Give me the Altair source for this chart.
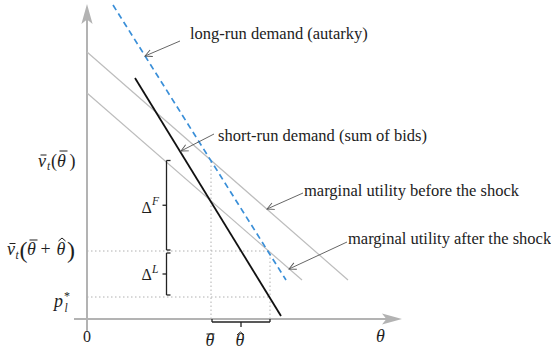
import math
import altair as alt
import pandas as pd

# ---- diagram values (theta on the horizontal axis, price on the vertical) ----
theta_bar = 124          # first-period quantity
theta_bar_hat = 183      # theta_bar + theta_hat
v_bar = 159              # v_t(theta_bar)
v_bar_hat = 68           # v_t(theta_bar + theta_hat)
p_low = 22               # p_l^*

# straight-line schedules: endpoints (theta0, price0) -> (theta1, price1)
mu_before = [(0, 267), (261, 39)]
mu_after = [(0, 226), (215, 39)]
long_run = [(26, 314), (199, 39)]
short_run = [(48, 241), (194, 3)]

# annotation arrows: label, tail, head
notes = [
    ("long-run demand (autarky)", (93, 278), (58, 263)),
    ("short-run demand (sum of bids)", (127, 185), (94, 168)),
    ("marginal utility before the shock", (216, 126), (180, 110)),
    ("marginal utility after the shock", (260, 77), (202, 50)),
]

# origin of the axes inside the 551 x 349 canvas
OX, OY = 87, 319
XS = alt.Scale(domain=[-OX, 551 - OX], nice=False, zero=False)
YS = alt.Scale(domain=[OY - 349, OY], nice=False, zero=False)
SERIF = "Liberation Serif"
INK = "#1e1e1e"


def cx(px):
    return px - OX


def cy(py):
    return OY - py


def seg_layer(rows, **mark):
    df = pd.DataFrame(rows, columns=["x", "y", "x2", "y2"])
    return alt.Chart(df).mark_rule(**mark).encode(
        x=alt.X("x:Q", scale=XS, axis=None),
        y=alt.Y("y:Q", scale=YS, axis=None),
        x2="x2:Q",
        y2="y2:Q",
    )


def line_rows(pts):
    (a, b), (c, d) = pts
    return [(a, b, c, d)]


def text_layer(rows, size, style="normal", align="left", baseline="alphabetic", color=INK):
    df = pd.DataFrame(rows, columns=["x", "y", "t"])
    return alt.Chart(df).mark_text(
        font=SERIF, fontSize=size, fontStyle=style, align=align,
        baseline=baseline, color=color,
    ).encode(
        x=alt.X("x:Q", scale=XS, axis=None),
        y=alt.Y("y:Q", scale=YS, axis=None),
        text="t:N",
    )


layers = []

# axes with arrow heads
layers.append(seg_layer([(cx(74), 0, 300, 0), (0, cy(332), 0, 300)], color="#b3b3b3", strokeWidth=2))
axis_heads = pd.DataFrame({"x": [cx(402), 0], "y": [0, cy(4)], "a": [0, 270]})
layers.append(
    alt.Chart(axis_heads).mark_point(
        shape="M0,0L-1,-0.28L-0.78,0L-1,0.28Z", size=1600, filled=True,
        color="#b3b3b3", opacity=1, strokeWidth=0,
    ).encode(
        x=alt.X("x:Q", scale=XS, axis=None),
        y=alt.Y("y:Q", scale=YS, axis=None),
        angle=alt.Angle("a:Q", scale=None),
    )
)

# dotted guides
guides = [
    (0, v_bar_hat, theta_bar_hat, v_bar_hat),
    (0, p_low, theta_bar_hat, p_low),
    (theta_bar, 0, theta_bar, v_bar),
    (theta_bar_hat, 0, theta_bar_hat, v_bar_hat),
]
layers.append(seg_layer(guides, color="#b0b0b0", strokeWidth=1, strokeDash=[1.5, 2.5]))

# marginal utility schedules
layers.append(seg_layer(line_rows(mu_before) + line_rows(mu_after), color="#bdbdbd", strokeWidth=1.2))
# long-run demand
layers.append(seg_layer(line_rows(long_run), color="#3a8fd8", strokeWidth=1.7, strokeDash=[6, 4]))
# short-run demand
layers.append(seg_layer(line_rows(short_run), color="#111111", strokeWidth=1.8))

# braces for Delta^F, Delta^L and theta_hat
bx = cx(166.5)
top_f, bot_f = v_bar - 0.5, v_bar_hat + 1
top_l, bot_l = v_bar_hat - 2, p_low + 2
braces = []
for top, bot in [(top_f, bot_f), (top_l, bot_l)]:
    mid = (top + bot) / 2
    braces += [(bx, top, bx, bot), (bx, top, bx + 4, top), (bx, bot, bx + 4, bot), (bx, mid, bx - 4, mid)]
l, r = theta_bar + 1, theta_bar_hat
yb = cy(322)
braces += [(l, yb, r, yb), (l, yb, l, 0), (r, yb, r, 0), ((l + r) / 2, yb, (l + r) / 2, yb - 5)]
layers.append(seg_layer(braces, color="#222222", strokeWidth=1.3))

# annotation arrows and their labels
arrow_rows = [(t[0], t[1], h[0], h[1]) for _, t, h in notes]
layers.append(seg_layer(arrow_rows, color="#555555", strokeWidth=0.9))
heads = pd.DataFrame({
    "x": [h[0] for _, _, h in notes],
    "y": [h[1] for _, _, h in notes],
    "a": [math.degrees(math.atan2(-(h[1] - t[1]), h[0] - t[0])) % 360 for _, t, h in notes],
})
layers.append(
    alt.Chart(heads).mark_point(
        shape="M-1,-0.5L0,0L-1,0.5", size=196, filled=False,
        color="#555555", opacity=1, strokeWidth=0.9,
    ).encode(
        x=alt.X("x:Q", scale=XS, axis=None),
        y=alt.Y("y:Q", scale=YS, axis=None),
        angle=alt.Angle("a:Q", scale=None),
    )
)
note_pos = [(190, 38.5), (218, 140.5), (304, 195.5), (348, 243.5)]
layers.append(text_layer([(cx(px), cy(py), txt) for (txt, _, _), (px, py) in zip(notes, note_pos)],
                         16.5, color="#222"))

# ---- math labels built from glyph pieces ----
italic_big = [  # v, theta, p at 18px italic
    (38, 167, "v"), (57, 167, "θ"),
    (7, 255, "v"), (27, 255, "θ"), (56.5, 255, "θ"),
    (54, 307, "p"),
    (376, 342, "θ"), (205.5, 346, "θ"), (235.5, 346, "θ"),
]
layers.append(text_layer([(cx(a), cy(b), t) for a, b, t in italic_big], 18, style="italic"))
italic_small = [(47, 170, "t"), (15.5, 259, "t"), (64.5, 311.5, "l"), (152, 205, "F"), (152, 272.5, "L")]
layers.append(text_layer([(cx(a), cy(b), t) for a, b, t in italic_small], 11.5, style="italic"))
layers.append(text_layer([(cx(a), cy(b), t) for a, b, t in [(51, 167, "("), (69.5, 167, ")")]], 18))
layers.append(text_layer([(cx(45.5), cy(255), "+")], 18, align="center"))
layers.append(text_layer([(cx(a), cy(b), t) for a, b, t in [(19.5, 258, "("), (67, 258, ")")]], 24))
layers.append(text_layer([(cx(64), cy(299.5), "*")], 12))
layers.append(text_layer([(cx(a), cy(b), t) for a, b, t in [(141.5, 213, "Δ"), (141.5, 280, "Δ")]], 16))
layers.append(text_layer([(cx(87), cy(342), "0")], 16, align="center"))

# overbars and hats on the symbols
bars = [(40.5, 46.5, 155), (59.5, 67.5, 151), (9.5, 15.5, 243.5), (29.5, 37.5, 240), (206.5, 214.5, 334)]
layers.append(seg_layer([(cx(a), cy(y), cx(b), cy(y)) for a, b, y in bars], color=INK, strokeWidth=1))
hats = [(62, 241), (240.5, 335)]
hat_rows = []
for hx, hy in hats:
    hat_rows += [(cx(hx - 3.5), cy(hy), cx(hx), cy(hy - 3)), (cx(hx), cy(hy - 3), cx(hx + 3.5), cy(hy))]
layers.append(seg_layer(hat_rows, color=INK, strokeWidth=1))

chart = alt.layer(*layers).properties(
    width=551, height=349, autosize=alt.AutoSizeParams(type="none"), padding=0,
    background="white",
).configure_view(stroke=None)

chart.save("out.html", embed_options={"renderer": "svg", "actions": False})
